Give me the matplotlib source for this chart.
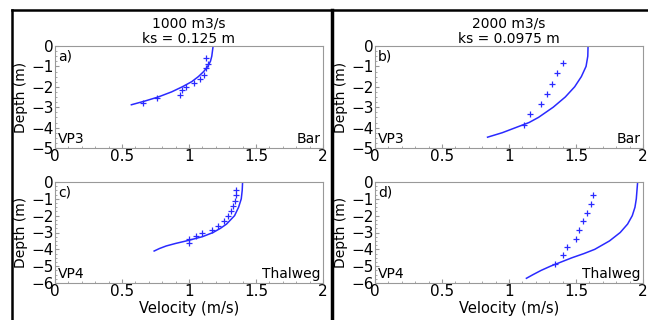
import matplotlib
matplotlib.use("Agg")
from matplotlib import pyplot as plt
from matplotlib.lines import Line2D
from matplotlib.ticker import MultipleLocator, FormatStrFormatter

# panel a) 1000 m3/s, VP3 (Bar)
a_line_v = [1.18, 1.175, 1.17, 1.16, 1.14, 1.11, 1.07, 1.02, 0.95, 0.87, 0.77, 0.67, 0.57]
a_line_d = [0.0, -0.25, -0.5, -0.75, -1.0, -1.25, -1.5, -1.75, -2.0, -2.25, -2.5, -2.7, -2.88]
a_obs_v = [1.13, 1.14, 1.13, 1.11, 1.08, 1.04, 0.98, 0.95, 0.93, 0.76, 0.66]
a_obs_d = [-0.6, -0.9, -1.1, -1.4, -1.6, -1.8, -2.0, -2.15, -2.4, -2.55, -2.8]

# panel b) 2000 m3/s, VP3 (Bar)
b_line_v = [1.54, 1.59, 1.588, 1.575, 1.54, 1.49, 1.42, 1.33, 1.22, 1.15, 1.05, 0.95, 0.84]
b_line_d = [0.0, 0.0, -0.5, -1.0, -1.5, -2.0, -2.5, -3.0, -3.5, -3.75, -4.0, -4.25, -4.47]
b_obs_v = [1.40, 1.36, 1.32, 1.28, 1.24, 1.16, 1.11]
b_obs_d = [-0.82, -1.32, -1.86, -2.36, -2.86, -3.35, -3.88]

# panel c) 1000 m3/s, VP4 (Thalweg)
c_line_v = [1.40, 1.397, 1.39, 1.37, 1.34, 1.28, 1.235, 1.18, 1.10, 0.98, 0.90, 0.83, 0.78, 0.74]
c_line_d = [0.0, -0.5, -1.0, -1.5, -2.0, -2.5, -2.75, -3.0, -3.25, -3.5, -3.65, -3.8, -3.95, -4.1]
c_obs_v = [1.35, 1.35, 1.34, 1.33, 1.31, 1.29, 1.26, 1.22, 1.17, 1.10, 1.05, 1.0, 1.0]
c_obs_d = [-0.5, -0.8, -1.1, -1.4, -1.7, -2.0, -2.3, -2.6, -2.85, -3.05, -3.2, -3.4, -3.6]

# panel d) 2000 m3/s, VP4 (Thalweg)
d_line_v = [1.96, 1.955, 1.95, 1.94, 1.92, 1.885, 1.83, 1.75, 1.64, 1.56,
            1.47, 1.39, 1.31, 1.24, 1.18, 1.13]
d_line_d = [0.0, -0.5, -1.0, -1.5, -2.0, -2.5, -3.0, -3.5, -4.0, -4.25,
            -4.5, -4.75, -5.0, -5.25, -5.5, -5.72]
d_obs_v = [1.63, 1.61, 1.58, 1.55, 1.52, 1.50, 1.43, 1.40, 1.34]
d_obs_d = [-0.8, -1.32, -1.82, -2.32, -2.86, -3.36, -3.86, -4.36, -4.86]

titles = ["1000 m3/s\nks = 0.125 m", "2000 m3/s\nks = 0.0975 m"]
labels = ["a)", "b)", "c)", "d)"]
sites = ["VP3", "VP3", "VP4", "VP4"]
places = ["Bar", "Bar", "Thalweg", "Thalweg"]
ybottom = [-5, -5, -6, -6]
xticks = [0, 0.5, 1, 1.5, 2]

panels = [(a_line_v, a_line_d, a_obs_v, a_obs_d),
          (b_line_v, b_line_d, b_obs_v, b_obs_d),
          (c_line_v, c_line_d, c_obs_v, c_obs_d),
          (d_line_v, d_line_d, d_obs_v, d_obs_d)]

W, H = 648, 320
fig = plt.figure(figsize=(W / 100, H / 100), dpi=100)

# axes boxes in pixels (left, top, right, bottom)
boxes = [(55, 46, 323, 148), (375, 46, 643, 148),
         (55, 182, 323, 283), (375, 182, 643, 283)]

blue = '#2a2aff'
for i, (lv, ld, ov, od) in enumerate(panels):
    l, t, r, b = boxes[i]
    ax = fig.add_axes([l / W, 1 - b / H, (r - l) / W, (b - t) / H])
    ax.plot(lv, ld, color=blue, lw=1.1)
    ax.plot(ov, od, '+', color=blue, ms=5, mew=0.9)
    ax.set_xticks(xticks)
    ax.set_yticks(list(range(ybottom[i], 1)))
    ax.set_xlim(0, 2)
    ax.set_ylim(ybottom[i], 0)
    ax.xaxis.set_major_formatter(FormatStrFormatter('%g'))
    ax.xaxis.set_minor_locator(MultipleLocator(0.1))
    ax.yaxis.set_minor_locator(MultipleLocator(0.25))
    ax.tick_params(which='both', direction='in', color='#999999',
                   labelsize=11, pad=1)
    ax.tick_params(which='major', length=3)
    ax.tick_params(which='minor', length=1.5)
    for s in ax.spines.values():
        s.set_color('#999999')
    ax.set_ylabel('Depth (m)', fontsize=10, labelpad=2)
    if i >= 2:
        ax.set_xlabel('Velocity (m/s)', fontsize=10.5, labelpad=1)
    else:
        ax.set_title(titles[i], fontsize=10, pad=2, linespacing=1.1)
    ax.text(0.012, 0.97, labels[i], transform=ax.transAxes,
            ha='left', va='top', fontsize=10)
    ax.text(0.012, 0.02, sites[i], transform=ax.transAxes,
            ha='left', va='bottom', fontsize=10)
    ax.text(0.99, 0.02, places[i], transform=ax.transAxes,
            ha='right', va='bottom', fontsize=10)

# black frame lines around the figure
fig.add_artist(Line2D([12 / W, 12 / W], [0, 1 - 10 / H], color='k', lw=1.8))
fig.add_artist(Line2D([12 / W, 1], [1 - 10 / H, 1 - 10 / H], color='k', lw=1.8))
fig.add_artist(Line2D([332 / W, 332 / W], [0, 1 - 10 / H], color='k', lw=2.5))

fig.savefig('out.png', dpi=100)
